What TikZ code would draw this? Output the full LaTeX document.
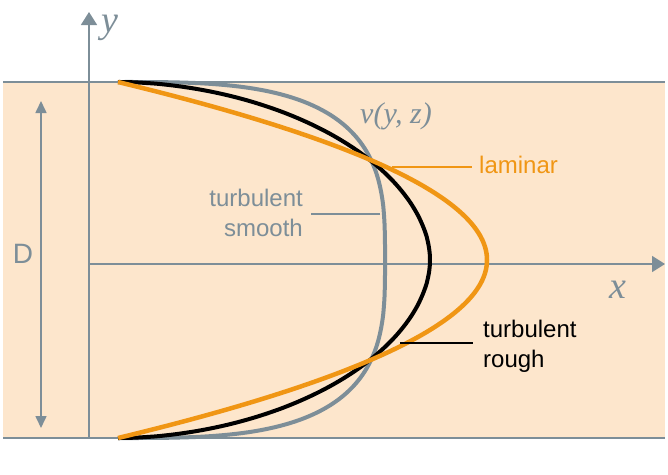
\documentclass[tikz,border=0pt]{standalone}
\usepackage{fontspec}
\setmainfont{Liberation Sans}
\newfontfamily\labelserif{Liberation Serif}
\usetikzlibrary{arrows.meta}

\definecolor{axisgrey}{RGB}{125,142,152}
\definecolor{flowbg}{RGB}{253,230,204}
\definecolor{lamorange}{RGB}{240,150,20}

\tikzset{
  axisline/.style={draw=axisgrey, line width=1.6pt},
  axistip/.style={-{Triangle[width=16pt,length=13pt]}},
  profile/.style={line width=4pt},
  leader/.style={line width=1.6pt},
  lbl/.style={font=\fontsize{24}{30}\selectfont, inner sep=0pt},
  varlbl/.style={font=\labelserif\itshape\fontsize{38}{40}\selectfont, text=axisgrey, inner sep=0pt}
}

\begin{document}
\begin{tikzpicture}[x=1pt,y=-1pt]
	\useasboundingbox (0,0) rectangle (668,474);
	% channel
	\fill[flowbg] (3,82) rectangle (665,438);
	\draw[axisline] (3,82) -- (665,82);
	\draw[axisline] (3,438) -- (665,438);

	% axes
	\coordinate (yfoot) at (89,438);
	\coordinate (ytop) at (89,12);
	\coordinate (xfoot) at (89,264);
	\coordinate (xend) at (665,264);
	\draw[axisline, axistip] (yfoot) -- (ytop);
	\draw[axisline, axistip] (xfoot) -- (xend);
	\node[varlbl, anchor=base west] (ylabel) at (101,32) {y};
	\node[varlbl, anchor=base west] (xlabel) at (609,298) {x};

	% diameter
	\coordinate (dtop) at (41,101);
	\coordinate (dbot) at (41,428);
	\draw[axisline, {Triangle[width=11pt,length=12pt]}-{Triangle[width=11pt,length=12pt]}] (dtop) -- (dbot);
	\node[lbl, text=axisgrey, font=\fontsize{28}{30}\selectfont] (dlabel) at (23,254) {D};

	% velocity profiles
	\draw[profile, axisgrey] (118,82) -- plot[domain=-89.5:89.5, samples=100, smooth]
		({118+267*pow(abs(cos(\x)),2/3.2)}, {260+178*sign(\x)*pow(abs(sin(\x)),2/3.2)}) -- (118,438);
	\draw[profile, black] (118,82) -- plot[domain=-89.5:89.5, samples=100, smooth]
		({118+312*pow(abs(cos(\x)),2/1.9)}, {260+178*sign(\x)*pow(abs(sin(\x)),2/1.9)}) -- (118,438);
	\draw[profile, lamorange, line width=4.5pt] plot[domain=-1:1, samples=80, smooth]
		({118+369*(1-\x*\x)}, {260+178*\x});

	\node[varlbl, font=\labelserif\itshape\fontsize{30}{32}\selectfont, anchor=base west] (vlabel) at (360,123) {v(y, z)};

	% labels
	\node[lbl, text=lamorange, anchor=west] (lam) at (479,165) {laminar};
	\coordinate (lamcurve) at (392,167);
	\coordinate (lamend) at (472,167);
	\draw[leader, lamorange] (lamcurve) -- (lamend);

	\node[lbl, text=axisgrey, align=right, anchor=east] (smooth) at (303,213) {turbulent\\smooth};
	\coordinate (smoothcurve) at (380,214);
	\coordinate (smoothend) at (311,214);
	\draw[leader, axisgrey] (smoothcurve) -- (smoothend);

	\node[lbl, text=black, align=left, anchor=west] (rough) at (483,346) {turbulent\\rough};
	\coordinate (roughcurve) at (400,343);
	\coordinate (roughend) at (473,343);
	\draw[leader, black] (roughcurve) -- (roughend);
\end{tikzpicture}
\end{document}
